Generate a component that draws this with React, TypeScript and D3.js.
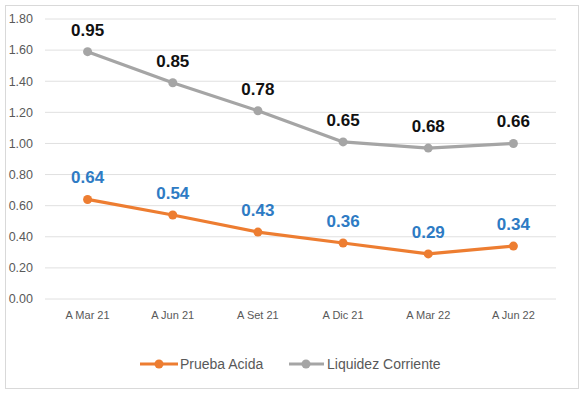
import React from 'react';
import * as d3 from 'd3';

const periods = ['A Mar 21', 'A Jun 21', 'A Set 21', 'A Dic 21', 'A Mar 22', 'A Jun 22'];
const pruebaAcida = [0.64, 0.54, 0.43, 0.36, 0.29, 0.34];
const liquidezCorriente = [0.95, 0.85, 0.78, 0.65, 0.68, 0.66];
const yTicks = [0, 0.2, 0.4, 0.6, 0.8, 1.0, 1.2, 1.4, 1.6, 1.8];

const W = 586;
const H = 396;
const ORANGE = '#ED7D31';
const GRAY = '#A5A5A5';
const BLUE = '#2E7BC4';
const FONT = '"Liberation Sans", Arial, sans-serif';

export default function App() {
  const x = d3.scaleBand().domain(periods).range([45, 556]);
  const y = d3.scaleLinear().domain([0, 1.8]).range([299, 19]);

  // stacked line chart: second series sits on top of the first
  const rows = periods.map((p, i) => ({ p, acida: pruebaAcida[i], liquidez: liquidezCorriente[i] }));
  const stacked = d3.stack<any>().keys(['acida', 'liquidez'])(rows);

  const cx = (i: number) => (x(periods[i]) as number) + x.bandwidth() / 2;
  const mkLine = d3
    .line<any>()
    .x((d, i) => cx(i))
    .y((d) => y(d[1]));

  const series = [
    { s: stacked[0], color: ORANGE, labels: pruebaAcida, labelColor: BLUE },
    { s: stacked[1], color: GRAY, labels: liquidezCorriente, labelColor: '#111' },
  ];

  return (
    <svg width={W} height={H} style={{ position: 'absolute', left: 0, top: 0, background: '#fff' }}>
      <rect x={5.5} y={5.5} width={573} height={383} fill="#fff" stroke="#d9d9d9" />
      {yTicks.map((t) => (
        <g key={t}>
          <line x1={45} x2={556} y1={y(t)} y2={y(t)} stroke="#e0e0e0" strokeWidth={1} />
          <text x={33} y={y(t)} dy="0.35em" textAnchor="end" fontSize={12.5} fill="#595959" fontFamily={FONT}>
            {t.toFixed(2)}
          </text>
        </g>
      ))}
      {periods.map((p, i) => (
        <text key={p} x={cx(i)} y={315} dy="0.35em" textAnchor="middle" fontSize={11} fill="#595959" fontFamily={FONT}>
          {p}
        </text>
      ))}
      {series.map((sr, k) => (
        <g key={k}>
          <path d={mkLine(sr.s as any) as string} fill="none" stroke={sr.color} strokeWidth={3.2} strokeLinejoin="round" />
          {sr.s.map((d: any, i: number) => (
            <circle key={i} cx={cx(i)} cy={y(d[1])} r={4.5} fill={sr.color} />
          ))}
          {sr.s.map((d: any, i: number) => (
            <text
              key={'l' + i}
              x={cx(i)}
              y={y(d[1]) - 22}
              dy="0.35em"
              textAnchor="middle"
              fontSize={17}
              fontWeight="bold"
              fill={sr.labelColor}
              fontFamily={FONT}
            >
              {sr.labels[i].toFixed(2)}
            </text>
          ))}
        </g>
      ))}
      <g fontFamily={FONT} fontSize={14} fill="#595959">
        <line x1={140} x2={178} y1={364} y2={364} stroke={ORANGE} strokeWidth={3.2} />
        <circle cx={159} cy={364} r={4.5} fill={ORANGE} />
        <text x={180} y={364} dy="0.35em">Prueba Acida</text>
        <line x1={289} x2={324} y1={364} y2={364} stroke={GRAY} strokeWidth={3.2} />
        <circle cx={306} cy={364} r={4.5} fill={GRAY} />
        <text x={327} y={364} dy="0.35em">Liquidez Corriente</text>
      </g>
    </svg>
  );
}
